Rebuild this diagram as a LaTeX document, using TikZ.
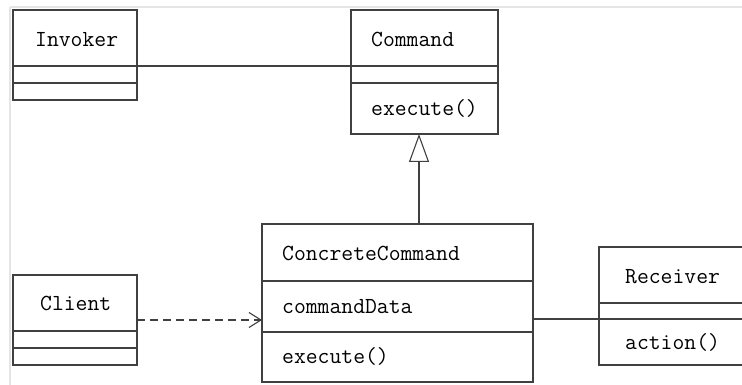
\documentclass[tikz,border=0pt]{standalone}
\usetikzlibrary{arrows.meta}
\begin{document}
\begin{tikzpicture}[x=1pt,y=-1pt,
  line/.style={draw=black!75,line width=1.3pt},
  umlbox/.style={draw=black!75,line width=1.3pt},
  lbl/.style={anchor=base west,inner sep=0pt,font=\fontsize{23}{27}\selectfont\ttfamily,text=black},
  conn/.style={draw=black!75,line width=1.1pt}]
\useasboundingbox (0,0) rectangle (742,385);
\clip (0,0) rectangle (742,385);
% faint frame
\draw[black!10,line width=1.5pt] (10,7) -- (742,7);
\draw[black!10,line width=1.5pt] (10,7) -- (10,385);
% Invoker
\node[umlbox,minimum width=124pt,minimum height=90pt,inner sep=0pt] (inv) at (75,55) {};
\draw[line] (13,66) -- (137,66);
\draw[line] (13,83) -- (137,83);
\node[lbl] (invt) at (35,47) {Invoker};
% Command
\node[umlbox,minimum width=147pt,minimum height=124pt,inner sep=0pt] (cmd) at (424.5,72) {};
\draw[line] (351,66) -- (498,66);
\draw[line] (351,83) -- (498,83);
\node[lbl] (cmdt) at (371,47) {Command};
\node[lbl] (cmde) at (371,116) {execute()};
\coordinate (invR) at (137,66);
\coordinate (cmdL) at (351,66);
\draw[conn] (invR) -- (cmdL);
% ConcreteCommand
\node[umlbox,minimum width=271pt,minimum height=158pt,inner sep=0pt] (cc) at (397.5,303) {};
\draw[line] (262,281) -- (533,281);
\draw[line] (262,332) -- (533,332);
\node[lbl] (cct) at (282,260) {ConcreteCommand};
\node[lbl] (ccd) at (282,313) {commandData};
\node[lbl] (cce) at (282,363) {execute()};
% generalization
\coordinate (ccT) at (419,224);
\coordinate (cmdB) at (419,134);
\draw[conn,-{Triangle[open,length=28pt,width=20pt,fill=white]}] (ccT) -- (cmdB);
% Receiver
\node[umlbox,minimum width=160pt,minimum height=118pt,inner sep=0pt] (rcv) at (679,306) {};
\draw[line] (599,303) -- (759,303);
\draw[line] (599,319) -- (759,319);
\node[lbl] (rcvt) at (625,283) {Receiver};
\node[lbl] (rcva) at (625,349) {action()};
\coordinate (ccR) at (533,319);
\coordinate (rcvL) at (599,319);
\draw[conn] (ccR) -- (rcvL);
% Client
\node[umlbox,minimum width=124pt,minimum height=90pt,inner sep=0pt] (cli) at (75,320) {};
\draw[line] (13,331) -- (137,331);
\draw[line] (13,348) -- (137,348);
\node[lbl] (clit) at (40,310) {Client};
\coordinate (cliR) at (137,320);
\coordinate (ccL) at (262,320);
\draw[conn,dash pattern=on 8pt off 5pt,-{Straight Barb[length=12pt,width=15pt]}] (cliR) -- (ccL);
\end{tikzpicture}
\end{document}
